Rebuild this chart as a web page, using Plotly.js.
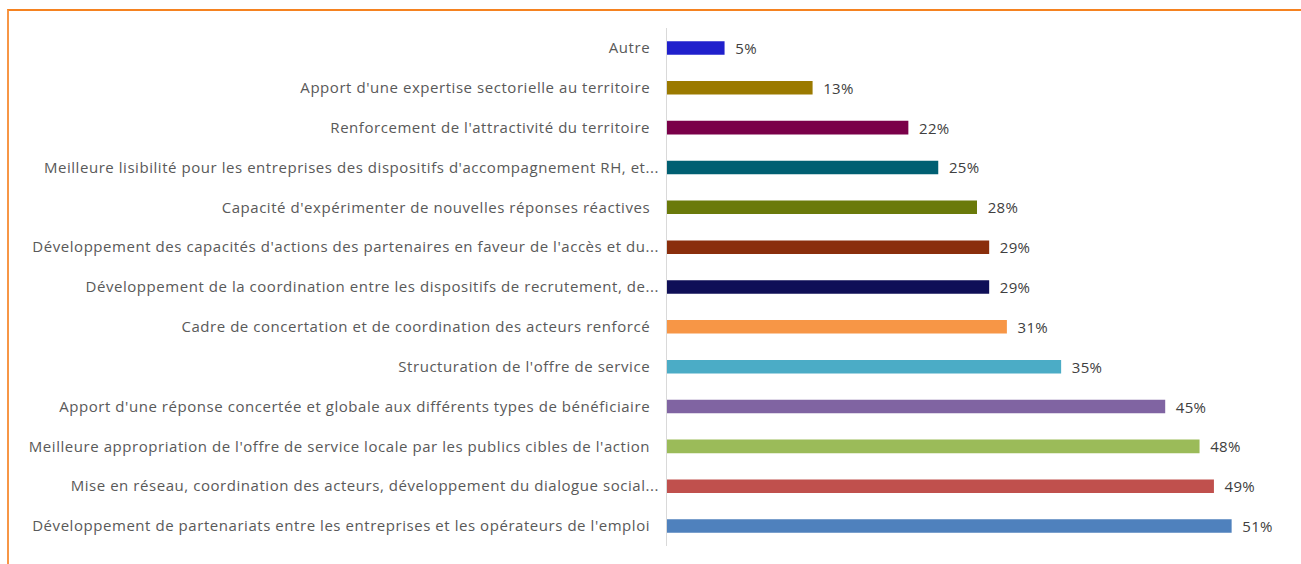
<!DOCTYPE html>
<html><head><meta charset="utf-8">
<script src="https://cdn.plot.ly/plotly-3.0.1.min.js"></script>
<style>
html,body{margin:0;padding:0;background:#fff;}
#frame{position:absolute;left:7px;top:9px;width:1294px;height:555px;border-top:2px solid #F58220;border-left:2px solid #F79646;box-sizing:border-box;}
#chart{position:absolute;left:0;top:0;width:1301px;height:564px;}
#chart .ytick text{letter-spacing:0.55px;}
#chart .bartext text, #chart text.bartext{letter-spacing:0.3px;}
</style></head>
<body>
<div id="frame"></div>
<div id="chart"></div>
<script>
// categories listed bottom to top
const categories = [
  "Développement de partenariats entre les entreprises et les opérateurs de l'emploi",
  "Mise en réseau, coordination des acteurs, développement du dialogue social...",
  "Meilleure appropriation de l'offre de service locale par les publics cibles de l'action",
  "Apport d'une réponse concertée et globale aux différents types de bénéficiaire",
  "Structuration de l'offre de service",
  "Cadre de concertation et de coordination des acteurs renforcé",
  "Développement de la coordination entre les dispositifs de recrutement, de...",
  "Développement des capacités d'actions des partenaires en faveur de l'accès et du...",
  "Capacité d'expérimenter de nouvelles réponses réactives",
  "Meilleure lisibilité pour les entreprises des dispositifs d'accompagnement RH, et...",
  "Renforcement de l'attractivité du territoire",
  "Apport d'une expertise sectorielle au territoire",
  "Autre"
];
const values = [51, 49.4, 48.1, 45.0, 35.6, 30.7, 29.1, 29.1, 28.0, 24.5, 21.8, 13.15, 5.2];
const valueLabels = ["51%","49%","48%","45%","35%","31%","29%","29%","28%","25%","22%","13%","5%"];
const colors = ["#4F81BD","#C0504D","#9BBB59","#8064A2","#4BACC6","#F79646","#0F0F57","#8A2E0C","#6A7A0A","#005F72","#7A0049","#9B7A00","#2020CC"];

const tickText = categories.map(c => c.endsWith("...") ? c : c + "\u00a0\u00a0");
const ids = categories.map((c,i)=>"c"+i);

const trace = {
  type: "bar",
  orientation: "h",
  y: ids,
  x: values,
  marker: {color: colors, line: {width: 0}},
  width: 0.34,
  text: valueLabels.map(t => "\u00a0\u00a0" + t),
  textposition: "outside",
  constraintext: "none",
  textfont: {family: "'Open Sans', sans-serif", size: 15, color: "#404040"},
  cliponaxis: false,
  hoverinfo: "none"
};

const layout = {
  width: 1301, height: 564,
  margin: {l: 667, r: 14, t: 28, b: 18},
  paper_bgcolor: "rgba(0,0,0,0)",
  plot_bgcolor: "rgba(0,0,0,0)",
  showlegend: false,
  xaxis: {range: [0, 56], visible: false, fixedrange: true},
  yaxis: {
    type: "category",
    tickvals: ids, ticktext: tickText,
    showline: true, linecolor: "#D9D9D9", linewidth: 1,
    ticks: "outside", ticklen: 4, tickcolor: "rgba(0,0,0,0)",
    tickfont: {family: "'Open Sans', sans-serif", size: 15, color: "#595959"},
    showgrid: false, zeroline: false, automargin: false, fixedrange: true
  },
  font: {family: "'Open Sans', sans-serif"}
};
Plotly.newPlot("chart", [trace], layout, {staticPlot: true, displayModeBar: false});
</script>
</body></html>
